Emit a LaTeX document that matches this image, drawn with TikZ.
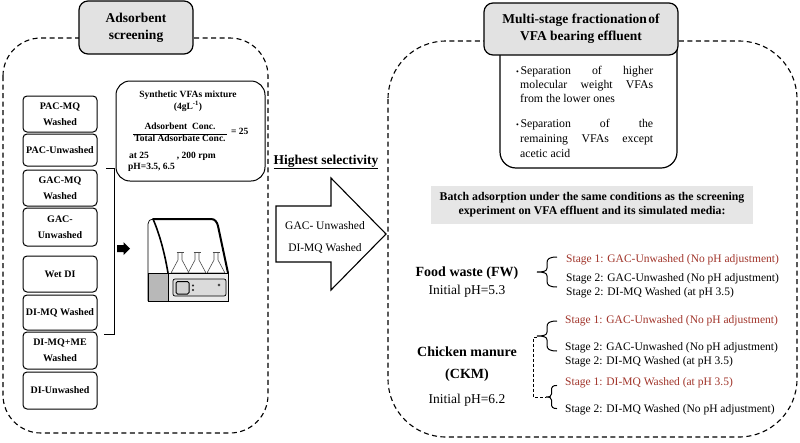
\documentclass[tikz,border=0pt]{standalone}
\usepackage{fontspec}
\setmainfont{Liberation Serif}
\definecolor{stred}{RGB}{160,52,42}
\definecolor{boxgray}{RGB}{226,226,226}
\definecolor{bandgray}{RGB}{230,230,230}
\begin{document}
\begin{tikzpicture}[x=1pt,y=-1pt,
  region/.style={draw, line width=1.1pt, dash pattern=on 5pt off 3.5pt},
  titlebox/.style={draw, fill=boxgray, line width=1.2pt, rounded corners=9pt, inner sep=0pt, align=center, font=\fontsize{13.5}{17}\selectfont\bfseries},
  sbox/.style={draw, line width=1pt, rounded corners=4pt, minimum width=74pt, inner sep=0pt, align=center, font=\fontsize{10}{16}\selectfont\bfseries},
  bt/.style={inner sep=0pt, font=\fontsize{9.5}{11}\selectfont\bfseries},
  stg/.style={anchor=west, inner sep=0pt, font=\fontsize{11.5}{13}\selectfont},
  redtxt/.style={text=stred},
  bul/.style={anchor=base west, inner sep=0pt, font=\fontsize{11.8}{14}\selectfont},
  src/.style={inner sep=0pt, font=\fontsize{14}{16}\selectfont\bfseries},
  srcr/.style={inner sep=0pt, font=\fontsize{13.5}{16}\selectfont},
  lbrace/.pic={\draw[line width=1pt] (20,-15) .. controls (12,-15) and (10,-13) .. (10,-9) -- (10,-4) .. controls (10,-1) and (7,0) .. (0,0) .. controls (7,0) and (10,1) .. (10,4) -- (10,9) .. controls (10,13) and (12,15) .. (20,15);}
]
\useasboundingbox (0,0) rectangle (800,442);

% regions
\draw[region, rounded corners=38pt] (3,38) rectangle (268,433);
\draw[region, rounded corners=58pt] (388,41) rectangle (797,437);

% left title
\node[titlebox, minimum width=114pt, minimum height=53pt] (t1) at (136,27.5) {Adsorbent\\screening};

% left stack
\node[sbox, minimum height=36pt] (s1) at (60,114) {PAC-MQ\\Washed};
\node[sbox, minimum height=32pt] (s2) at (60,150) {PAC-Unwashed};
\node[sbox, minimum height=36pt] (s3) at (60,188) {GAC-MQ\\Washed};
\node[sbox, minimum height=38pt] (s4) at (60,227) {GAC-\\Unwashed};
\node[sbox, minimum height=36pt] (s5) at (60,274) {Wet DI};
\node[sbox, minimum height=35pt] (s6) at (60,312.5) {DI-MQ Washed};
\node[sbox, minimum height=37pt] (s7) at (60,350.5) {DI-MQ+ME\\Washed};
\node[sbox, minimum height=37pt] (s8) at (60,390.5) {DI-Unwashed};

% bracket
\coordinate (bk1) at (106,168);
\coordinate (bk2) at (104,334);
\draw[line width=1pt] (bk1) -- (114,168) -- (114,334) -- (bk2);

% small arrow
\fill (117,245) -- (123.5,245) -- (123.5,242) -- (130,248.5) -- (123.5,255) -- (123.5,252) -- (117,252) -- cycle;

% synthetic box
\node[draw, line width=1pt, rounded corners=14pt, minimum width=149pt, minimum height=100pt] (syn) at (190.5,131) {};
\node[bt] (sy1) at (188,95) {Synthetic VFAs mixture};
\node[bt] (sy2) at (188,106.5) {(4gL\textsuperscript{-1})};
\node[bt] (num) at (180,126) {Adsorbent\ \ Conc.};
\node[bt] (den) at (180,138) {Total Adsorbate Conc.};
\draw[line width=0.9pt] ([xshift=-1pt,yshift=-0.5pt]den.north west) -- ([xshift=1pt,yshift=-0.5pt]den.north east);
\node[bt, anchor=west] (eq) at (231,131.5) {= 25};
\node[bt, anchor=west] (cond1) at (129,156) {at 25\hspace{28pt}, 200 rpm};
\node[bt, anchor=west] (cond2) at (128,167.5) {pH=3.5, 6.5};

% shaker
\draw[line width=0.7pt] (148,301) -- (148,224) .. controls (148,221) and (150,219) .. (153,219);
\draw[line width=2pt, line cap=round] (153,219) -- (211,219) .. controls (215,219) and (217,222) .. (218,226) -- (228,273);
\draw[line width=1.6pt] (153,219) .. controls (160,235) and (165,255) .. (168,273);
\foreach \cx in {180,197,216}{
  \draw[line width=0.6pt, black!70, fill=white] (\cx-2,253) -- (\cx-2,260) -- (\cx-9,273) -- (\cx+9,273) -- (\cx+2,260) -- (\cx+2,253);
  \draw[line width=0.6pt, black!70] (\cx-3.5,252) -- (\cx+3.5,252);
}
\draw[line width=0.7pt, fill=black!28] (148,273.5) rectangle (168,301);
\draw[line width=0.7pt, fill=black!8] (168.5,273.5) rectangle (228.5,301);
\draw[line width=0.7pt, fill=black!14, rounded corners=2pt] (173,279) rectangle (226,296);
\draw[line width=1pt, fill=black!18, rounded corners=1.5pt] (176,281.5) rectangle (189,294);
\draw[line width=0.4pt] (193,285.5) circle (0.9);
\draw[line width=0.4pt] (193,290) circle (0.9);
\draw[line width=0.4pt] (219,285) circle (1.2);

% highest selectivity
\node[inner sep=0pt, font=\fontsize{13.5}{16}\selectfont\bfseries] (hs) at (326,162) {\underline{Highest selectivity}};
\draw[line width=1.1pt, fill=white] (276,206) -- (331,206) -- (331,178) -- (386,234) -- (331,290) -- (331,262) -- (276,262) -- cycle;
\node[inner sep=0pt, font=\fontsize{11.5}{14}\selectfont] (a1) at (325,226) {GAC- Unwashed};
\node[inner sep=0pt, font=\fontsize{11.5}{14}\selectfont] (a2) at (325,248) {DI-MQ Washed};

% right title and bullets
\draw[line width=1.2pt, fill=white, rounded corners=16pt] (500,40) -- (500,168) -- (677,168) -- (677,40);
\node[titlebox, minimum width=194pt, minimum height=52pt] (t2) at (581,29) {Multi-stage fractionation\hspace{1.5pt}of\\VFA bearing effluent};
\node[bul] (b1) at (516,74) {\makebox[137pt][s]{{\fontsize{8}{8}\selectfont\textbullet}\kern1.5pt Separation of higher}};
\node[bul] (b2) at (520,88.5) {\makebox[133pt][s]{molecular weight VFAs}};
\node[bul] (b3) at (520,102.5) {from the lower ones};
\node[bul] (b4) at (516,127) {\makebox[137pt][s]{{\fontsize{8}{8}\selectfont\textbullet}\kern1.5pt Separation of the}};
\node[bul] (b5) at (520,142) {\makebox[133pt][s]{remaining VFAs except}};
\node[bul] (b6) at (520,157) {acetic acid};

% band
\node[fill=bandgray, minimum width=322pt, minimum height=38pt, inner sep=0pt, align=center, font=\fontsize{11.8}{14}\selectfont\bfseries] (band) at (592,205) {Batch adsorption under the same conditions as the screening\\experiment on VFA effluent and its simulated media:};

% food waste
\node[src] (fw) at (467,273) {Food waste (FW)};
\node[srcr] (fwph) at (467,291) {Initial pH=5.3};
\pic at (537,272) {lbrace};
\node[stg, redtxt] (f1) at (566,260) {Stage 1: GAC-Unwashed (No pH adjustment)};
\node[stg] (f2) at (566,279) {Stage 2: GAC-Unwashed (No pH adjustment)};
\node[stg] (f3) at (566,293) {Stage 2: DI-MQ Washed (at pH 3.5)};

% chicken manure
\node[src] (ck) at (467,352) {Chicken manure};
\node[src] (ck2) at (467,375) {(CKM)};
\node[srcr] (ckph) at (467,400) {Initial pH=6.2};
\pic at (537,336) {lbrace};
\pic[xscale=0.55, yscale=0.77] at (546,397) {lbrace};
\coordinate (k1) at (537,337);
\coordinate (k2) at (546,397);
\draw[line width=0.9pt, dash pattern=on 3pt off 2pt] (k1) -- ++(-3.5,0) |- (k2);
\node[stg, redtxt] (c1) at (565,321) {Stage 1: GAC-Unwashed (No pH adjustment)};
\node[stg] (c2) at (565,348) {Stage 2: GAC-Unwashed (No pH adjustment)};
\node[stg] (c3) at (565,362) {Stage 2: DI-MQ Washed (at pH 3.5)};
\node[stg, redtxt] (c4) at (565,383) {Stage 1: DI-MQ Washed (at pH 3.5)};
\node[stg] (c5) at (565,410) {Stage 2: DI-MQ Washed (No pH adjustment)};
\end{tikzpicture}
\end{document}
